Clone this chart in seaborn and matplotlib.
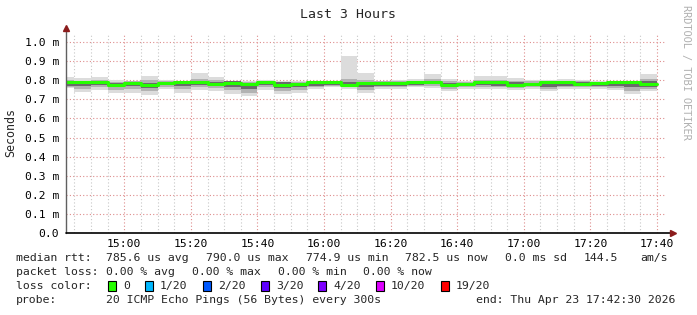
import numpy as np
import pandas as pd
import matplotlib
matplotlib.use("Agg")
import matplotlib.pyplot as plt
import matplotlib.dates as mdates
from matplotlib.patches import Rectangle
import seaborn as sns

# ---------------- data (ms) ----------------
bin_start = pd.date_range("2026-04-23 14:40", periods=36, freq="5min")
median = [0.789, 0.789, 0.789, 0.776, 0.785, 0.776, 0.785, 0.789, 0.789, 0.782,
          0.787, 0.780, 0.789, 0.776, 0.778, 0.789, 0.789, 0.775, 0.783, 0.788,
          0.787, 0.789, 0.789, 0.776, 0.780, 0.789, 0.789, 0.776, 0.782, 0.789,
          0.789, 0.781, 0.787, 0.789, 0.789, 0.782]
smoke_hi = [0.818, 0.810, 0.818, 0.801, 0.798, 0.824, 0.801, 0.798, 0.839, 0.818,
            0.798, 0.798, 0.801, 0.794, 0.796, 0.798, 0.796, 0.928, 0.839, 0.798,
            0.800, 0.806, 0.832, 0.806, 0.798, 0.822, 0.822, 0.810, 0.801, 0.801,
            0.806, 0.801, 0.798, 0.798, 0.798, 0.832]
smoke_lo = [0.757, 0.740, 0.749, 0.735, 0.735, 0.723, 0.752, 0.735, 0.749, 0.745,
            0.728, 0.717, 0.749, 0.729, 0.735, 0.756, 0.763, 0.756, 0.735, 0.754,
            0.756, 0.762, 0.760, 0.742, 0.752, 0.756, 0.756, 0.749, 0.756, 0.742,
            0.752, 0.756, 0.752, 0.749, 0.728, 0.742]
mid_lo = [0.765, 0.755, 0.762, 0.750, 0.752, 0.742, 0.764, 0.752, 0.762, 0.757,
          0.748, 0.735, 0.762, 0.745, 0.750, 0.766, 0.770, 0.765, 0.750, 0.765,
          0.766, 0.770, 0.770, 0.755, 0.762, 0.766, 0.766, 0.760, 0.766, 0.755,
          0.764, 0.766, 0.762, 0.760, 0.745, 0.755]
mid_hi = [0.800, 0.797, 0.800, 0.792, 0.794, 0.800, 0.794, 0.794, 0.805, 0.800,
          0.796, 0.792, 0.796, 0.791, 0.790, 0.794, 0.793, 0.805, 0.800, 0.795,
          0.795, 0.797, 0.805, 0.795, 0.793, 0.800, 0.800, 0.797, 0.795, 0.796,
          0.797, 0.794, 0.793, 0.793, 0.793, 0.805]
dark_lo = [0.772, 0.768, 0.775, 0.762, 0.768, 0.758, 0.774, 0.770, 0.774, 0.768,
           0.766, 0.752, 0.774, 0.760, 0.764, 0.772, 0.776, 0.770, 0.764, 0.772,
           0.772, 0.776, 0.778, 0.764, 0.770, 0.774, 0.772, 0.768, 0.772, 0.765,
           0.772, 0.772, 0.770, 0.770, 0.762, 0.766]
dark_hi = [0.792, 0.787, 0.792, 0.784, 0.790, 0.786, 0.790, 0.786, 0.792, 0.790,
           0.794, 0.780, 0.792, 0.790, 0.784, 0.785, 0.790, 0.790, 0.790, 0.782,
           0.782, 0.790, 0.792, 0.785, 0.788, 0.792, 0.784, 0.790, 0.788, 0.784,
           0.790, 0.790, 0.790, 0.790, 0.790, 0.794]

y_ticks = [0.0, 0.1, 0.2, 0.3, 0.4, 0.5, 0.6, 0.7, 0.8, 0.9, 1.0]
loss_labels = ["0", "1/20", "2/20", "3/20", "4/20", "10/20", "19/20"]
loss_colors = ["#26ff00", "#00b8ff", "#0059ff", "#5e00ff", "#7e00ff", "#dd00ff", "#ff0000"]

# ---------------- figure ----------------
sns.set_style("white")
plt.rcParams["font.family"] = ["DejaVu Sans Mono"]
W, H = 697, 315
fig = plt.figure(figsize=(W / 100, H / 100), dpi=100)
fig.patch.set_facecolor("white")

def fx(px):
    return px / W

def fy(py):
    return 1 - py / H

left, right, top, bottom = 66, 665.3, 32.5, 233
ax = fig.add_axes([fx(left), fy(bottom), fx(right - left), (bottom - top) / H])
ax.set_facecolor("white")

t_ext = list(bin_start) + [bin_start[-1] + pd.Timedelta(minutes=5)]

def ext(a):
    return list(a) + [a[-1]]

t0 = pd.Timestamp("2026-04-23 14:42:30")
t1 = pd.Timestamp("2026-04-23 17:42:30")
ax.set_xlim(t0, t1)
ax.set_ylim(0, 1.05)

# grid
grid_major = (0.87, 0.55, 0.55)
grid_minor = (0.78, 0.78, 0.78)
for v in y_ticks[1:]:
    ax.axhline(v, color=grid_major, lw=0.8, ls=(0, (1, 2)), zorder=1)
minor_times = pd.date_range("2026-04-23 14:45", "2026-04-23 17:40", freq="5min")
for tm in minor_times:
    major = tm.minute % 20 == 0
    ax.axvline(tm, color=grid_major if major else grid_minor, lw=0.8,
               ls=(0, (1, 2)), zorder=1)

# smoke
ax.fill_between(t_ext, ext(smoke_lo), ext(smoke_hi), step="post",
                color="#dcdcdc", lw=0, zorder=2)
ax.fill_between(t_ext, ext(mid_lo), ext(mid_hi), step="post",
                color="#b2b2b2", lw=0, zorder=3)
ax.fill_between(t_ext, ext(dark_lo), ext(dark_hi), step="post",
                color="#6a6a6a", lw=0, zorder=4)

# median line
df = pd.DataFrame({"time": t_ext, "median": ext(median)})
sns.lineplot(data=df, x="time", y="median", drawstyle="steps-post",
             color="#303030", lw=0.8, ax=ax, zorder=5)
sns.lineplot(data=df, x="time", y="median", drawstyle="steps-post",
             color=loss_colors[0], lw=2.2, ax=ax, zorder=6)

# axes formatting
ax.set_xlabel("")
ax.set_ylabel("")
for s in ax.spines.values():
    s.set_visible(False)
ax.xaxis.set_major_locator(mdates.MinuteLocator(byminute=[0, 20, 40]))
ax.xaxis.set_major_formatter(mdates.DateFormatter("%H:%M"))
ax.set_yticks(y_ticks)
ax.set_yticklabels(["0.0"] + [f"{v:.1f} m" for v in y_ticks[1:]])
ax.tick_params(axis="both", length=0, labelsize=8.2, colors="black")
ax.tick_params(axis="x", pad=4)
ax.tick_params(axis="y", pad=5)

# axis lines with arrows
ax.plot([0, 0], [0, 1.01], transform=ax.transAxes, color="#606060", lw=1,
        clip_on=False, zorder=7)
ax.plot([0, 1.012], [0, 0], transform=ax.transAxes, color="black", lw=1.2,
        clip_on=False, zorder=7)
ax.plot([0], [1.02], transform=ax.transAxes, marker="^", ms=4.5,
        color="#8b1c1c", clip_on=False, zorder=8)
ax.plot([1.013], [0], transform=ax.transAxes, marker=">", ms=4.5,
        color="#8b1c1c", clip_on=False, zorder=8)

# texts
fig.text(0.5, fy(14), "Last 3 Hours", ha="center", va="center", fontsize=9.5)
fig.text(fx(11), fy(132), "Seconds", rotation=90, ha="center", va="center",
         fontsize=8.4)
fig.text(fx(686), fy(5), "RRDTOOL / TOBI OETIKER", rotation=-90, ha="center",
         va="top", fontsize=7.4, color="#b0b0b0")

fs = 8.25
def put(x, y, s):
    fig.text(fx(x), fy(y), s, ha="left", va="center", fontsize=fs)

r1, r2, r3, r4 = 258, 272, 286, 300
put(16, r1, "median rtt:")
put(106, r1, "785.6 us avg")
put(206, r1, "790.0 us max")
put(306, r1, "774.9 us min")
put(405, r1, "782.5 us now")
put(505, r1, "0.0 ms sd")
put(584, r1, "144.5")
put(640, r1, "am/s")

put(16, r2, "packet loss:")
put(106, r2, "0.00 % avg")
put(192, r2, "0.00 % max")
put(278, r2, "0.00 % min")
put(363, r2, "0.00 % now")

put(16, r3, "loss color:")
box_x = [108, 145, 203, 261, 318, 376, 441]
for bx, lab, col in zip(box_x, loss_labels, loss_colors):
    fig.patches.append(Rectangle((fx(bx), fy(r3 + 5)), fx(8), 10 / H,
                                 transform=fig.transFigure, facecolor=col,
                                 edgecolor="black", lw=0.8))
    put(bx + 15, r3, lab)

put(16, r4, "probe:")
put(106, r4, "20 ICMP Echo Pings (56 Bytes) every 300s")
put(476, r4, "end: Thu Apr 23 17:42:30 2026")

fig.savefig("out.png", dpi=100, facecolor="white")
